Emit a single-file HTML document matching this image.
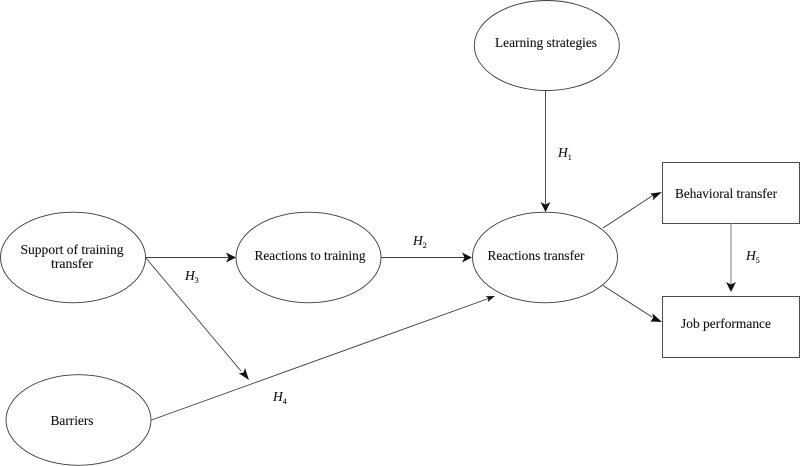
<!DOCTYPE html>
<html><head><meta charset="utf-8"><style>
html,body{margin:0;padding:0;background:#fff;width:800px;height:466px;overflow:hidden}
svg{display:block}
text{font-family:"Liberation Serif",serif;font-size:13.5px;fill:#111;stroke:#111;stroke-width:0.1px}
.h{font-style:italic;font-size:13.5px}
.s{font-size:8px;font-style:normal}
</style></head><body>
<svg width="800" height="466" viewBox="0 0 800 466" xmlns="http://www.w3.org/2000/svg">
<g fill="none" stroke="#3a3a3a" stroke-width="0.9">
<ellipse cx="73" cy="257.5" rx="72.5" ry="45.3"/>
<ellipse cx="308.5" cy="257.5" rx="72.5" ry="45.3"/>
<ellipse cx="78.5" cy="420" rx="72.5" ry="45.3"/>
<ellipse cx="546.8" cy="45.5" rx="72.5" ry="45"/>
<ellipse cx="545" cy="257.5" rx="72.5" ry="45.3"/>
<rect x="662.5" y="162.5" width="137" height="61"/>
<rect x="662.5" y="296.5" width="137" height="61"/>
<path d="M145.5 257.5H228M145.5 257.5L241 371M151.5 420L488.5 298.5M381 257.5H465M545.5 91V204M603 228L652 196M603 285.5L652 317"/>
</g>
<path d="M731 223.5V285" stroke="#999" stroke-width="1.3" fill="none"/>
<g fill="#111">
<path d="M236 257.5L226 252.5L228.5 257.500L226 262.5Z"/>
<path d="M249 380L239 373.5L243.5 372.5L245 368Z"/>
<path d="M495 296L485.5 296.3L488.5 298.4L487.8 302Z"/>
<path d="M472 257.5L462 252.5L464.5 257.5L462 262.5Z"/>
<path d="M545.5 212L540.5 202L545.5 204.5L550.5 202Z"/>
<path d="M662 192L650.5 193.5L653.5 197L652.5 200.5Z"/>
<path d="M662 322L652.5 313.5L653 318L650.5 321.5Z"/>
<path d="M731 292L726 282L731 284.5L736 282Z"/>
</g>
<text x="20.5" y="254" textLength="103" lengthAdjust="spacingAndGlyphs">Support of training</text>
<text x="51" y="268" textLength="42" lengthAdjust="spacingAndGlyphs">transfer</text>
<text x="254.5" y="260" textLength="111" lengthAdjust="spacingAndGlyphs">Reactions to training</text>
<text x="50.5" y="425" textLength="43" lengthAdjust="spacingAndGlyphs">Barriers</text>
<text x="495" y="47" textLength="102" lengthAdjust="spacingAndGlyphs">Learning strategies</text>
<text x="487.5" y="260" textLength="97" lengthAdjust="spacingAndGlyphs">Reactions transfer</text>
<text x="675" y="198" textLength="102" lengthAdjust="spacingAndGlyphs">Behavioral transfer</text>
<text x="681" y="328" textLength="90" lengthAdjust="spacingAndGlyphs">Job performance</text>
<text class="h" x="558" y="157">H<tspan class="s" dy="3">1</tspan></text>
<text class="h" x="413" y="245">H<tspan class="s" dy="3">2</tspan></text>
<text class="h" x="185" y="280">H<tspan class="s" dy="3">3</tspan></text>
<text class="h" x="273" y="401">H<tspan class="s" dy="3">4</tspan></text>
<text class="h" x="746" y="260">H<tspan class="s" dy="3">5</tspan></text>
</svg>
</body></html>
